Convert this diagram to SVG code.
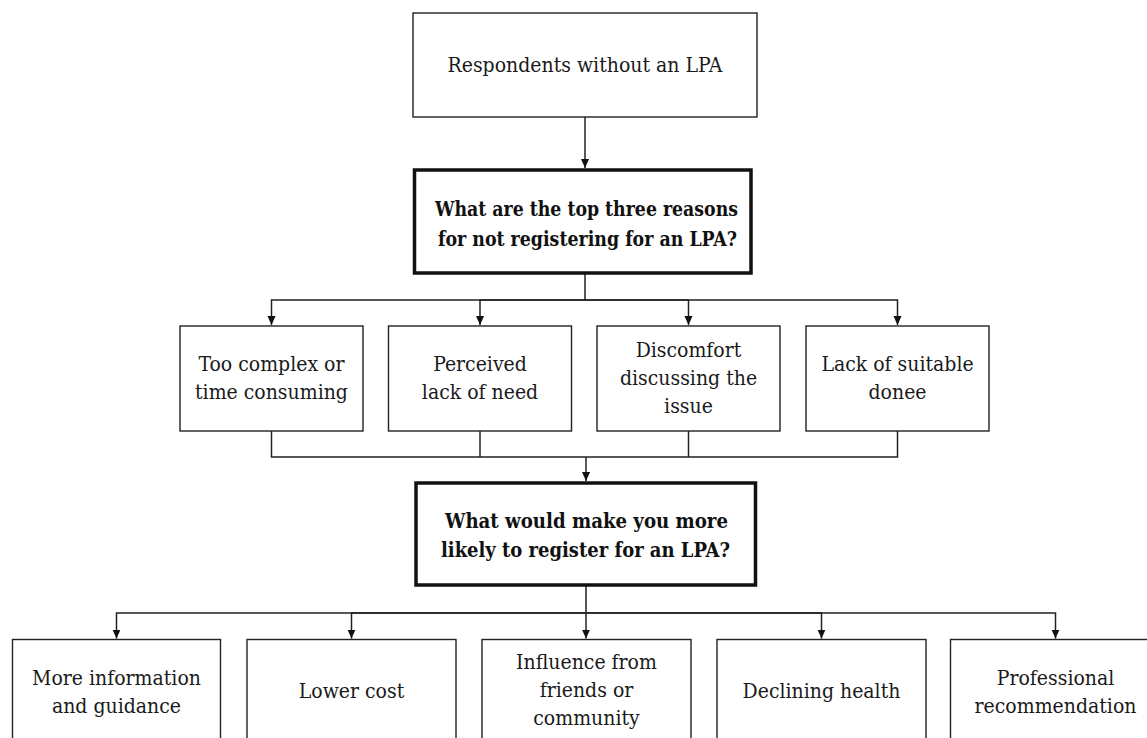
<svg xmlns="http://www.w3.org/2000/svg" width="1147" height="738" viewBox="0 0 1147 738">
<style>
.box{fill:#fff;stroke:#222;stroke-width:1.4}
.qbox{fill:#fff;stroke:#111;stroke-width:3.5}
.t{font-family:'DejaVu Serif Condensed','DejaVu Serif',serif;font-stretch:condensed;font-size:21px;fill:#1a1a1a;text-anchor:middle}
.b{font-weight:bold;fill:#111}
.c{fill:none;stroke:#222;stroke-width:1.5}
</style>
<defs>
<marker id="ah" viewBox="0 0 10 10" refX="10" refY="5" markerWidth="9" markerHeight="9" markerUnits="userSpaceOnUse" orient="auto">
<path d="M0,0.5 L10,5 L0,9.5 z" fill="#111"/>
</marker>
</defs>
<rect width="1147" height="738" fill="#fff"/>
<g id="connectors">
<path class="c" d="M585,117 V168" marker-end="url(#ah)"/>
<path class="c" d="M585,274 V300 H271.5 V325" marker-end="url(#ah)"/>
<path class="c" d="M585,300 H480 V325" marker-end="url(#ah)"/>
<path class="c" d="M585,300 H688.5 V325" marker-end="url(#ah)"/>
<path class="c" d="M585,300 H897.5 V325" marker-end="url(#ah)"/>
<path class="c" d="M271.5,431 V457 H897.5 V431"/>
<path class="c" d="M480,431 V457"/>
<path class="c" d="M688.5,431 V457"/>
<path class="c" d="M586,457 V481" marker-end="url(#ah)"/>
<path class="c" d="M586,586 V613 H116.5 V638.5" marker-end="url(#ah)"/>
<path class="c" d="M586,613 H351.5 V638.5" marker-end="url(#ah)"/>
<path class="c" d="M586,613 V638.5" marker-end="url(#ah)"/>
<path class="c" d="M586,613 H821.5 V638.5" marker-end="url(#ah)"/>
<path class="c" d="M586,613 H1055.5 V638.5" marker-end="url(#ah)"/>
</g>
<g id="start">
<rect class="box" x="413" y="13" width="344" height="104"/>
<text class="t" x="585" y="72">Respondents without an LPA</text>
</g>
<g id="q1">
<rect class="qbox" x="414.5" y="170" width="336.5" height="103"/>
<text class="t b" x="586.5" y="216" textLength="303" lengthAdjust="spacingAndGlyphs">What are the top three reasons</text>
<text class="t b" x="587.5" y="246" textLength="299" lengthAdjust="spacingAndGlyphs">for not registering for an LPA?</text>
</g>
<g id="r1">
<rect class="box" x="180" y="326" width="183" height="105"/>
<text class="t" x="271.5" y="371">Too complex or</text>
<text class="t" x="271.5" y="399">time consuming</text>
</g>
<g id="r2">
<rect class="box" x="388.5" y="326" width="183" height="105"/>
<text class="t" x="480" y="371">Perceived</text>
<text class="t" x="480" y="399">lack of need</text>
</g>
<g id="r3">
<rect class="box" x="597" y="326" width="183" height="105"/>
<text class="t" x="688.5" y="357">Discomfort</text>
<text class="t" x="688.5" y="385">discussing the</text>
<text class="t" x="688.5" y="413">issue</text>
</g>
<g id="r4">
<rect class="box" x="806" y="326" width="183" height="105"/>
<text class="t" x="897.5" y="371">Lack of suitable</text>
<text class="t" x="897.5" y="399">donee</text>
</g>
<g id="q2">
<rect class="qbox" x="416" y="483" width="339.5" height="102"/>
<text class="t b" x="586.5" y="528" textLength="283" lengthAdjust="spacingAndGlyphs">What would make you more</text>
<text class="t b" x="585.5" y="557" textLength="289" lengthAdjust="spacingAndGlyphs">likely to register for an LPA?</text>
</g>
<g id="f1">
<rect class="box" x="12.5" y="639.5" width="208" height="110"/>
<text class="t" x="116.5" y="685">More information</text>
<text class="t" x="116.5" y="713">and guidance</text>
</g>
<g id="f2">
<rect class="box" x="247" y="639.5" width="209" height="110"/>
<text class="t" x="351.5" y="698">Lower cost</text>
</g>
<g id="f3">
<rect class="box" x="482" y="639.5" width="209" height="110"/>
<text class="t" x="586.5" y="669">Influence from</text>
<text class="t" x="586.5" y="697">friends or</text>
<text class="t" x="586.5" y="725">community</text>
</g>
<g id="f4">
<rect class="box" x="717" y="639.5" width="209" height="110"/>
<text class="t" x="821.5" y="698">Declining health</text>
</g>
<g id="f5">
<rect class="box" x="950.5" y="639.5" width="210" height="110"/>
<text class="t" x="1055.5" y="685">Professional</text>
<text class="t" x="1055.5" y="713">recommendation</text>
</g>
</svg>
